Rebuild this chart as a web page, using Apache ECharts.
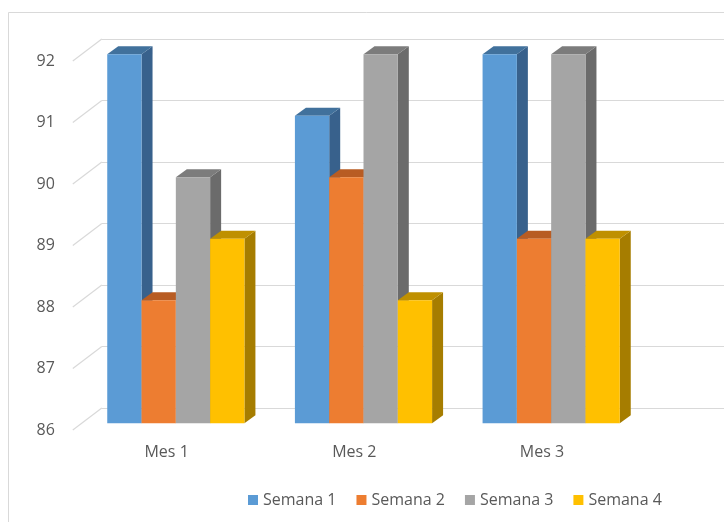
<!DOCTYPE html>
<html><head><meta charset="utf-8">
<script src="https://cdn.jsdelivr.net/npm/echarts@6/dist/echarts.min.js"></script>
<style>html,body{margin:0;padding:0;background:#fff}#c{width:724px;height:522px}</style>
</head><body><div id="c"></div>
<script>
// ---- data ----
const categories = ['Mes 1', 'Mes 2', 'Mes 3'];
const seriesNames = ['Semana 1', 'Semana 2', 'Semana 3', 'Semana 4'];
const semana1 = [92, 91, 92];
const semana2 = [88, 90, 89];
const semana3 = [90, 92, 92];
const semana4 = [89, 88, 89];
const yTicks = [86, 87, 88, 89, 90, 91, 92];
const seriesValues = [semana1, semana2, semana3, semana4];

// ---- styles ----
const faces = [
  { front: '#5B9BD5', top: '#41719C', side: '#38618C' },
  { front: '#ED7D31', top: '#B85C23', side: '#A5501E' },
  { front: '#A5A5A5', top: '#7C7C7C', side: '#6B6B6B' },
  { front: '#FFC000', top: '#BF9000', side: '#A67D00' }
];
const Y_MIN = 86, Y_MAX = 92;
const BAR_FRAC = 34.3 / 187.7;
const OFF_X = 9.2, OFF_Y = -6.7;   // bar front plane offset from floor front
const DX = 11, DY = -8;            // bar depth
const WALL_DX = 29, WALL_DY = -22; // floor depth to back wall
const FONT = '"Open Sans", "Noto Sans", sans-serif';
const TXT = '#595959';

function barRenderer(sIdx) {
  const f = faces[sIdx];
  return function (params, api) {
    const cat = api.value(0), v = api.value(1);
    const top = api.coord([cat, v]);
    const base = api.coord([cat, Y_MIN]);
    const band = api.size([1, 0])[0];
    const bw = band * BAR_FRAC;
    const x0 = top[0] - 2 * bw + sIdx * bw + OFF_X;
    const x1 = x0 + bw;
    const yT = top[1] + OFF_Y, yB = base[1] + OFF_Y;
    return {
      type: 'group',
      children: [
        { type: 'polygon', shape: { points: [[x1, yT], [x1 + DX, yT + DY], [x1 + DX, yB + DY], [x1, yB]] }, style: { fill: f.side } },
        { type: 'polygon', shape: { points: [[x0, yT], [x1, yT], [x1 + DX, yT + DY], [x0 + DX, yT + DY]] }, style: { fill: f.top } },
        { type: 'rect', shape: { x: x0, y: yT, width: bw, height: yB - yT }, style: { fill: f.front } }
      ]
    };
  };
}

const series = [];
series.push({
  type: 'custom', name: 'diag', xAxisIndex: 0, yAxisIndex: 0, silent: true, z: 1,
  data: yTicks.map(v => [0, v]),
  renderItem: function (params, api) {
    const p = api.coord([0, api.value(1)]);
    const band = api.size([1, 0])[0];
    const x0 = p[0] - band / 2;
    return { type: 'line', shape: { x1: x0, y1: p[1], x2: x0 + WALL_DX, y2: p[1] + WALL_DY }, style: { stroke: '#d9d9d9', lineWidth: 1.2 } };
  }
});
seriesNames.forEach((name, s) => {
  series.push({
    type: 'custom', name: name, xAxisIndex: 0, yAxisIndex: 0, z: 2 + s,
    itemStyle: { color: faces[s].front },
    data: categories.map((c, i) => [i, seriesValues[s][i]]),
    encode: { x: 0, y: 1 },
    renderItem: barRenderer(s)
  });
});
series.push({ type: 'line', xAxisIndex: 1, yAxisIndex: 1, data: [], silent: true });

const chart = echarts.init(document.getElementById('c'), null, { renderer: 'canvas' });
chart.setOption({
  animation: false,
  backgroundColor: '#fff',
  graphic: [{ type: 'rect', z: -10, shape: { x: 8.5, y: 12.5, width: 800, height: 600 }, style: { fill: 'none', stroke: '#d9d9d9', lineWidth: 1 } }],
  legend: {
    data: seriesNames, left: 243, top: 487, icon: 'rect', itemWidth: 10, itemHeight: 10, itemGap: 20,
    textStyle: { color: TXT, fontSize: 16, fontFamily: FONT }
  },
  grid: [
    { left: 72.8, width: 563, top: 61, bottom: 92 },
    { left: 101.8, right: 0, top: 39, bottom: 114 }
  ],
  xAxis: [
    { type: 'category', gridIndex: 0, data: categories, axisLine: { show: false }, axisTick: { show: false },
      axisLabel: { color: TXT, fontSize: 16, fontFamily: FONT, margin: 14 }, splitLine: { show: false } },
    { type: 'value', gridIndex: 1, min: 0, max: 1, show: false }
  ],
  yAxis: [
    { type: 'value', gridIndex: 0, min: Y_MIN, max: Y_MAX, interval: 1, axisLine: { show: false }, axisTick: { show: false },
      splitLine: { show: false }, axisLabel: { color: TXT, fontSize: 16, fontFamily: FONT, margin: 18 } },
    { type: 'value', gridIndex: 1, min: Y_MIN, max: Y_MAX, interval: 1, axisLine: { show: false }, axisTick: { show: false },
      axisLabel: { show: false }, splitLine: { show: true, lineStyle: { color: '#d9d9d9', width: 1.2 } } }
  ],
  series: series
});
</script></body></html>
